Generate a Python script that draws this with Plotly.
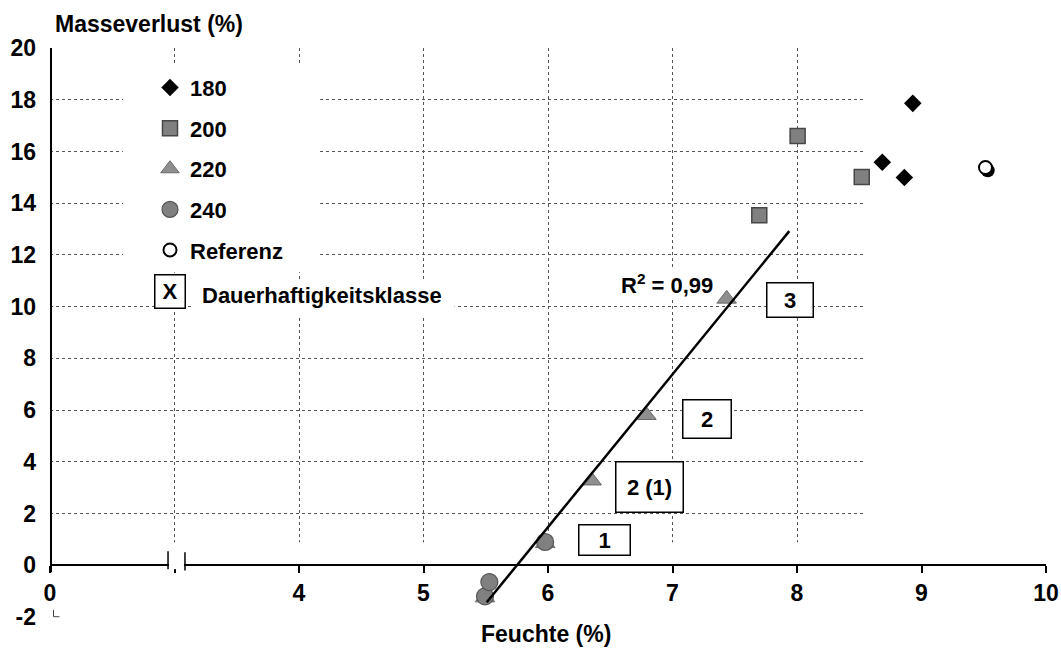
import plotly.graph_objects as go

# ---------------- data ----------------
x180 = [8.930, 8.685, 8.862]
y180 = [17.86, 15.58, 14.99]
x200 = [7.697, 8.005, 8.520]
y200 = [13.53, 16.60, 15.01]
x220 = [5.494, 5.977, 6.351, 6.790, 7.435]
y220 = [-1.25, 0.85, 3.27, 5.80, 10.30]
x240 = [5.494, 5.529, 5.977]
y240 = [-1.20, -0.65, 0.90]
x_ref = [9.514]
y_ref = [15.38]
trend_x = [5.508, 7.938]
trend_y = [-1.43, 12.92]
r2_label = "R<sup>2</sup> = 0,99"

series_names = ["180", "200", "220", "240", "Referenz"]
class_labels = ["1", "2 (1)", "2", "3"]
legend_box_label = "X"
legend_box_text = "Dauerhaftigkeitsklasse"

xtick_vals = [2, 3, 4, 5, 6, 7, 8, 9, 10]
xtick_text = ["0", " ", "4", "5", "6", "7", "8", "9", "10"]
ytick_vals = [-2, 0, 2, 4, 6, 8, 10, 12, 14, 16, 18, 20]
ytick_text = ["-2", "0", "2", "4", "6", "8", "10", "12", "14", "16", "18", "20"]

x_title = "Feuchte (%)"
y_title = "Masseverlust (%)"

# ---------------- figure ----------------
FONT = "Liberation Sans, Arial, sans-serif"
FS = 23
YMIN, YMAX = -2, 20


def py(v):
    return (v - YMIN) / (YMAX - YMIN)


fig = go.Figure()

fig.add_trace(go.Scatter(
    x=x180, y=y180, mode="markers", name=series_names[0], legendgroup="a",
    marker=dict(symbol="diamond", size=13.5, color="black", line=dict(width=0)),
))
fig.add_trace(go.Scatter(
    x=x200, y=y200, mode="markers", name=series_names[1], legendgroup="b",
    marker=dict(symbol="square", size=15, color="#808080", line=dict(width=1.5, color="#474747")),
))
fig.add_trace(go.Scatter(
    x=x220, y=y220, mode="markers", name=series_names[2], legendgroup="c",
    marker=dict(symbol="triangle-up", size=17, color="#8f8f8f", line=dict(width=1, color="#6a6a6a")),
))
fig.add_trace(go.Scatter(
    x=x240, y=y240, mode="markers", name=series_names[3], legendgroup="d",
    marker=dict(symbol="circle", size=17, color="#808080", line=dict(width=1.2, color="#555555")),
))
# shadow of the reference marker
fig.add_trace(go.Scatter(
    x=[v + 0.018 for v in x_ref], y=[v - 0.11 for v in y_ref], mode="markers",
    showlegend=False, hoverinfo="skip",
    marker=dict(symbol="circle", size=14, color="black", line=dict(width=0)),
))
fig.add_trace(go.Scatter(
    x=x_ref, y=y_ref, mode="markers", name=series_names[4], legendgroup="e",
    marker=dict(symbol="circle", size=13, color="white", line=dict(width=2, color="black")),
))
fig.add_trace(go.Scatter(
    x=trend_x, y=trend_y, mode="lines", showlegend=False, hoverinfo="skip",
    line=dict(color="black", width=2.5),
))

grid = dict(showgrid=True, gridcolor="#555555", gridwidth=1, griddash="dot", zeroline=False)

fig.update_layout(
    width=1061, height=648,
    margin=dict(l=50, r=15, t=48, b=31, pad=0, autoexpand=False),
    paper_bgcolor="white", plot_bgcolor="white",
    font=dict(family=FONT, size=FS, color="black", weight="bold"),
    showlegend=True,
    legend=dict(
        x=0.1004, xanchor="left", y=0.967, yanchor="top",
        bgcolor="rgba(0,0,0,0)", borderwidth=0,
        font=dict(size=22, family=FONT, weight="bold"),
        traceorder="grouped", tracegroupgap=9, itemwidth=30,
    ),
    xaxis=dict(
        range=[2, 10], anchor="free", position=py(0), automargin=False,
        tickvals=xtick_vals, ticktext=xtick_text,
        showline=True, linecolor="black", linewidth=2,
        ticks="outside", ticklen=7, tickwidth=2, tickcolor="black",
        tickfont=dict(size=FS, family=FONT, weight="bold"),
        **grid,
    ),
    yaxis=dict(
        range=[YMIN, YMAX], tickvals=ytick_vals, ticktext=ytick_text, automargin=False,
        showline=False, ticks="", ticklabelstandoff=13,
        tickfont=dict(size=FS, family=FONT, weight="bold"),
        **grid,
    ),
)

shapes = []
white = dict(type="rect", fillcolor="white", line=dict(width=0), layer="between", xref="x", yref="y")
# gridline masks (white areas in the reference)
shapes.append(dict(white, x0=1.9, x1=10.2, y0=-2.5, y1=0.89))
shapes.append(dict(white, x0=8.53, x1=10.2, y0=-2.5, y1=20.5))
shapes.append(dict(white, x0=2.586, x1=4.169, y0=11.33, y1=19.37))
shapes.append(dict(white, x0=3.15, x1=5.25, y0=9.63, y1=11.06))
# axis break
shapes.append(dict(type="rect", xref="x", yref="y", x0=2.955, x1=3.076, y0=-0.15, y1=0.15,
                   fillcolor="white", line=dict(width=0), layer="above"))
shapes.append(dict(type="line", xref="x", yref="y", x0=2.948, x1=2.948, y0=0.54, y1=-0.15,
                   line=dict(color="black", width=1.5), layer="above"))
shapes.append(dict(type="line", xref="x", yref="y", x0=3.084, x1=3.084, y0=0.50, y1=-0.20,
                   line=dict(color="black", width=1.5), layer="above"))
# y axis line (from just below 0 up to 20)
shapes.append(dict(type="line", xref="paper", yref="paper", x0=0.001, x1=0.001, y0=py(-0.27), y1=py(20),
                   line=dict(color="black", width=2), layer="above"))
# small corner mark at -2
shapes.append(dict(type="path", xref="paper", yref="paper",
                   path="M 0.0035,0.0125 L 0.0035,0.0005 L 0.0095,0.0005",
                   line=dict(color="#444444", width=1), layer="above"))
fig.update_layout(shapes=shapes)

ann = []
ann.append(dict(text=y_title, xref="paper", yref="paper", x=0.003, y=1.042,
                xanchor="left", yanchor="middle", showarrow=False,
                font=dict(size=FS, family=FONT, weight="bold")))
ann.append(dict(text=x_title, xref="paper", yref="paper", x=0.498, y=-0.030,
                xanchor="center", yanchor="middle", showarrow=False,
                font=dict(size=FS, family=FONT, weight="bold")))
ann.append(dict(text=r2_label, x=6.956, y=10.89, xref="x", yref="y", showarrow=False,
                bgcolor="white", font=dict(size=22, family=FONT, weight="bold")))

box_geo = [  # x, y, width, height (px)
    (6.450, 0.986, 50, 29),
    (6.815, 3.017, 66, 49),
    (7.281, 5.667, 47, 37),
    (7.940, 10.27, 45, 33),
]
for lab, (bx, by, bw, bh) in zip(class_labels, box_geo):
    ann.append(dict(text=lab, x=bx, y=by, xref="x", yref="y", showarrow=False,
                    width=bw, height=bh, borderpad=0, bordercolor="black", borderwidth=1.5,
                    bgcolor="white", align="center", valign="middle",
                    font=dict(size=22, family=FONT, weight="bold")))
ann.append(dict(text=legend_box_label, x=2.96, y=10.6, xref="x", yref="y", showarrow=False,
                width=29, height=32, borderpad=0, bordercolor="black", borderwidth=1.5,
                bgcolor="white", font=dict(size=22, family=FONT, weight="bold")))
ann.append(dict(text=legend_box_text, x=3.205, y=10.45, xref="x", yref="y", showarrow=False,
                xanchor="left", yanchor="middle",
                font=dict(size=22, family=FONT, weight="bold")))
fig.update_layout(annotations=ann)

fig.write_html("out.html")
